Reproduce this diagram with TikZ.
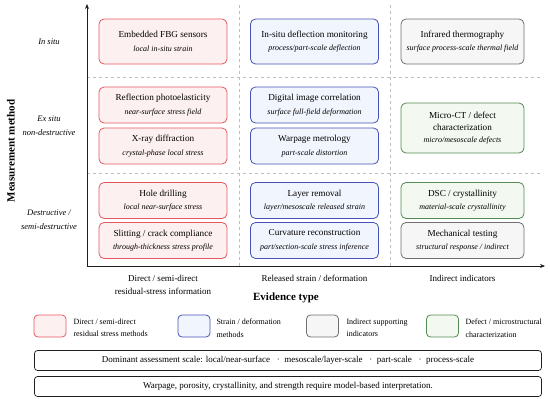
\documentclass[tikz,border=0pt]{standalone}
\usepackage{fontspec}
\setmainfont{Liberation Serif}
\usepackage{tikz}
\usetikzlibrary{arrows.meta}
\definecolor{myred}{RGB}{228,88,96}
\definecolor{myblue}{RGB}{72,82,182}
\definecolor{mygray}{RGB}{112,112,112}
\definecolor{mygreen}{RGB}{82,140,82}
\definecolor{mydark}{RGB}{30,30,30}
\definecolor{gridgray}{RGB}{190,190,190}
\definecolor{hdrred}{RGB}{253,240,240}
\definecolor{hdrblue}{RGB}{241,245,253}
\definecolor{hdrgray}{RGB}{246,246,246}
\definecolor{hdrgreen}{RGB}{243,248,240}
\newcommand{\methodnote}[1]{{\fontsize{8}{13}\selectfont\itshape #1}}
\tikzset{
  methodbox/.style={rectangle, rounded corners=5pt, line width=0.8pt,
    align=center, minimum width=128pt, minimum height=36pt, inner sep=2pt,
    font=\fontsize{9.2}{13.5}\selectfont},
  redblock/.style={methodbox, draw=myred, fill=hdrred},
  blueblock/.style={methodbox, draw=myblue, fill=hdrblue},
  grayblock/.style={methodbox, draw=mygray, fill=hdrgray},
  greenblock/.style={methodbox, draw=mygreen, fill=hdrgreen},
  keybox/.style={rectangle, rounded corners=4pt, line width=0.8pt,
    minimum width=32pt, minimum height=22pt},
  keytext/.style={anchor=west, align=left, font=\fontsize{8}{12.5}\selectfont},
  rowlabel/.style={align=center, font=\fontsize{8.5}{14}\selectfont\itshape},
  collabel/.style={align=center, font=\fontsize{9}{13}\selectfont},
  axislabel/.style={font=\fontsize{11}{13}\selectfont\bfseries},
  notebox/.style={rectangle, draw=mydark, rounded corners=3pt, line width=0.7pt,
    minimum width=507pt, minimum height=20pt, font=\fontsize{9}{11}\selectfont},
  arrow/.style={-{Stealth[length=5pt, width=4pt]}, line width=0.9pt, color=mydark},
  gridline/.style={dashed, gridgray, line width=0.6pt}
}
\begin{document}
\begin{tikzpicture}[x=1pt, y=-1pt]
  \useasboundingbox (0,0) rectangle (550,399);

  % Grid
  \draw[gridline] (239,5) -- (239,266);
  \draw[gridline] (390,5) -- (390,266);
  \draw[gridline] (87,77) -- (543,77);
  \draw[gridline] (87,173) -- (543,173);

  % Axes
  \coordinate (origin) at (87,266);
  \coordinate (ytip) at (87,4);
  \coordinate (xtip) at (545,266);
  \draw[arrow] (origin) -- (ytip);
  \draw[arrow] (origin) -- (xtip);
  \node[axislabel, rotate=90] (ytitle) at (11,151) {Measurement method};
  \node[axislabel] (xtitle) at (286,298) {Evidence type};

  % Row labels
  \node[rowlabel] (insitu) at (49,42) {In situ};
  \node[rowlabel] (exsitu) at (49,126) {Ex situ\\non-destructive};
  \node[rowlabel] (destr) at (49,220) {Destructive /\\semi-destructive};

  % Column labels
  \node[collabel, anchor=north] (direct) at (163,272) {Direct / semi-direct\\residual-stress information};
  \node[collabel, anchor=north] (released) at (314.5,272) {Released strain / deformation};
  \node[collabel, anchor=north] (indirect) at (462.5,272) {Indirect indicators};

  % In situ
  \node[redblock, minimum height=45pt] (fbg) at (163,41.5)
    {Embedded FBG sensors\\\methodnote{local in-situ strain}};
  \node[blueblock, minimum height=45pt] (deflect) at (314.5,41.5)
    {In-situ deflection monitoring\\\methodnote{process/part-scale deflection}};
  \node[grayblock, minimum height=45pt, minimum width=123pt] (infrared) at (462.5,41.5)
    {Infrared thermography\\\methodnote{surface process-scale thermal field}};

  % Ex situ
  \node[redblock] (photo) at (163,105)
    {Reflection photoelasticity\\\methodnote{near-surface stress field}};
  \node[redblock] (xray) at (163,146)
    {X-ray diffraction\\\methodnote{crystal-phase local stress}};
  \node[blueblock] (dic) at (314.5,105)
    {Digital image correlation\\\methodnote{surface full-field deformation}};
  \node[blueblock] (warp) at (314.5,146)
    {Warpage metrology\\\methodnote{part-scale distortion}};
  \node[greenblock, minimum height=50pt, minimum width=123pt,
    font=\fontsize{9.2}{12}\selectfont] (microct) at (462.5,128)
    {Micro-CT / defect\\characterization\\\methodnote{micro/mesoscale defects}};

  % Destructive
  \node[redblock] (hole) at (163,200.5)
    {Hole drilling\\\methodnote{local near-surface stress}};
  \node[redblock] (slit) at (163,240.5)
    {Slitting / crack compliance\\\methodnote{through-thickness stress profile}};
  \node[blueblock] (layer) at (314.5,200.5)
    {Layer removal\\\methodnote{layer/mesoscale released strain}};
  \node[blueblock] (curv) at (314.5,240.5)
    {Curvature reconstruction\\\methodnote{part/section-scale stress inference}};
  \node[greenblock, minimum width=123pt] (dsc) at (462.5,200.5)
    {DSC / crystallinity\\\methodnote{material-scale crystallinity}};
  \node[grayblock, minimum width=123pt] (mech) at (462.5,240.5)
    {Mechanical testing\\\methodnote{structural response / indirect}};

  % Legend
  \node[keybox, draw=myred, fill=hdrred] (keyred) at (50,326) {};
  \node[keytext] (keyredtxt) at (70,328) {Direct / semi-direct\\residual stress methods};
  \node[keybox, draw=myblue, fill=hdrblue] (keyblue) at (194,326) {};
  \node[keytext] (keybluetxt) at (213,328) {Strain / deformation\\methods};
  \node[keybox, draw=mygray, fill=hdrgray] (keygray) at (322.5,326) {};
  \node[keytext] (keygraytxt) at (343,328) {Indirect supporting\\indicators};
  \node[keybox, draw=mygreen, fill=hdrgreen] (keygreen) at (442.5,326) {};
  \node[keytext] (keygreentxt) at (462,328) {Defect / microstructural\\characterization};

  % Notes
  \node[notebox] (scale) at (288,360.5)
    {Dominant assessment scale: local/near-surface \enspace·\enspace mesoscale/layer-scale \enspace·\enspace part-scale \enspace·\enspace process-scale};
  \node[notebox] (model) at (288,386.5)
    {Warpage, porosity, crystallinity, and strength require model-based interpretation.};
\end{tikzpicture}
\end{document}
